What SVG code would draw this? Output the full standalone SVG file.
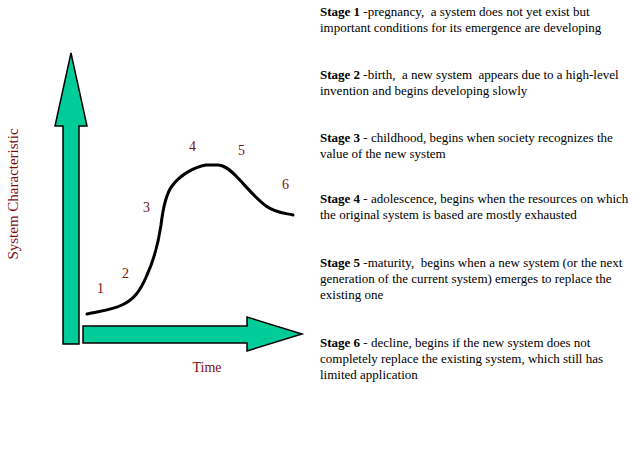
<svg xmlns="http://www.w3.org/2000/svg" width="640" height="449" viewBox="0 0 640 449">
<style>
.arrow{fill:#00cc99;stroke:#000;stroke-width:1.5;stroke-linejoin:miter}
.lbl{font-family:"Liberation Serif",serif;font-size:14px;fill:#7a0f0f}
.st{font-family:"Liberation Serif",serif;font-size:13px;fill:#000;white-space:pre}
.st tspan.b{font-weight:bold}
</style>
<rect width="640" height="449" fill="#fff"/>
<g id="y-axis">
<polygon class="arrow" points="71,53 87,126 79,126 79,344 63,344 63,126 55,126"/>
<text class="lbl" transform="translate(18,194) rotate(-90)" text-anchor="middle" style="font-size:15px">System Characteristic</text>
</g>
<g id="x-axis">
<polygon class="arrow" points="83,326 247,326 247,317 302,334 247,351 247,343 83,343"/>
<text class="lbl" x="207" y="372" text-anchor="middle">Time</text>
</g>
<g id="connectors">
<path d="M87,314 C100,311 112,310 122,305 C133,300 140,292 147,275 C153,262 158,245 161,225 C163,208 166,194 172,186 C180,175 194,167 206,165 L218,165 C224,165 229,169 236,176 C245,185 255,198 266,206 C276,213 284,213 293,215" fill="none" stroke="#000" stroke-width="3" stroke-linecap="round"/>
</g>
<g id="stage-numbers">
<text class="lbl" x="97" y="293">1</text>
<text class="lbl" x="122" y="278">2</text>
<text class="lbl" x="143" y="212">3</text>
<text class="lbl" x="189" y="151">4</text>
<text class="lbl" x="238" y="155">5</text>
<text class="lbl" x="282" y="189">6</text>
</g>
<g id="stage1" xml:space="preserve"><text class="st" x="320" y="16"><tspan class="b">Stage 1</tspan> -pregnancy,  a system does not yet exist but</text><text class="st" x="320" y="32">important conditions for its emergence are developing</text></g>
<g id="stage2" xml:space="preserve"><text class="st" x="320" y="79"><tspan class="b">Stage 2</tspan> -birth,  a new system  appears due to a high-level</text><text class="st" x="320" y="95">invention and begins developing slowly</text></g>
<g id="stage3" xml:space="preserve"><text class="st" x="320" y="142"><tspan class="b">Stage 3</tspan> - childhood, begins when society recognizes the</text><text class="st" x="320" y="158">value of the new system</text></g>
<g id="stage4" xml:space="preserve"><text class="st" x="320" y="203"><tspan class="b">Stage 4</tspan> - adolescence, begins when the resources on which</text><text class="st" x="320" y="219">the original system is based are mostly exhausted</text></g>
<g id="stage5" xml:space="preserve"><text class="st" x="320" y="267"><tspan class="b">Stage 5</tspan> -maturity,  begins when a new system (or the next</text><text class="st" x="320" y="283">generation of the current system) emerges to replace the</text><text class="st" x="320" y="299">existing one</text></g>
<g id="stage6" xml:space="preserve"><text class="st" x="320" y="347"><tspan class="b">Stage 6</tspan> - decline, begins if the new system does not</text><text class="st" x="320" y="363">completely replace the existing system, which still has</text><text class="st" x="320" y="379">limited application</text></g>
</svg>
